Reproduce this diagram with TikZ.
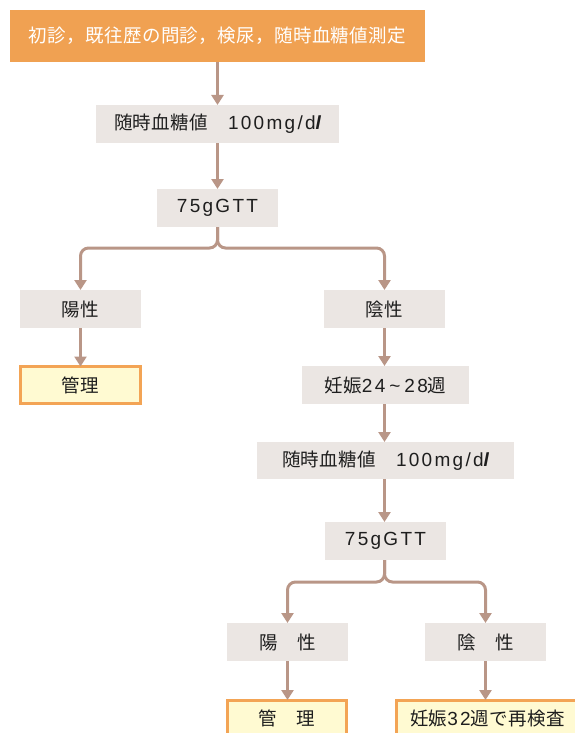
\documentclass[tikz,border=0pt]{standalone}
\usepackage{fontspec}
\usetikzlibrary{arrows.meta,calc}
\newfontfamily\cjk[LetterSpace=2]{Noto Sans CJK JP}
\newfontfamily\latf[LetterSpace=12]{Liberation Sans}
\newcommand{\lat}{\latf\fontsize{19}{22}\selectfont}
\definecolor{topfill}{HTML}{F0A152}
\definecolor{boxfill}{HTML}{EBE6E3}
\definecolor{arrcol}{HTML}{B99687}
\definecolor{mfill}{HTML}{FFFAD2}
\definecolor{mline}{HTML}{F3A455}
\definecolor{txt}{HTML}{1E1E1E}
\newcommand{\mgdl}{{\lat 100mg/d}{\lat\bfseries\itshape l}}
\begin{document}
\begin{tikzpicture}[x=1pt,y=-1pt,
  every node/.style={font=\cjk\fontsize{18.5}{21}\selectfont, text=txt, inner sep=0pt, outer sep=0pt},
  graybox/.style={fill=boxfill, minimum height=38pt},
  topbox/.style={fill=topfill, text=white, minimum width=415pt, minimum height=52pt},
  mbox/.style={fill=mfill, draw=mline, line width=3pt, minimum height=37pt},
  arr/.style={draw=arrcol, line width=3pt, -{Triangle[width=12pt,length=10pt]}},
  br/.style={arr, rounded corners=8pt}]
\useasboundingbox (0,0) rectangle (575,733);
\clip (0,0) rectangle (575,733);
% column 1
\node[topbox] (top) at (217.5,36) {初診，既往歴の問診，検尿，随時血糖値測定};
\node[graybox, minimum width=243pt] (r1) at (217.5,124) {随時血糖値\hspace{20pt}\mgdl};
\node[graybox, minimum width=121pt] (g1) at (217.5,208) {\lat 75gGTT};
\node[graybox, minimum width=121pt] (p1) at (80.5,309) {陽性};
\node[graybox, minimum width=121pt] (n1) at (384.5,309) {陰性};
\node[mbox, minimum width=120pt] (m1) at (80.5,385) {管理};
\node[graybox, minimum width=167pt] (w1) at (385.5,385) {妊娠{\lat 24\hspace{4pt}\textasciitilde\hspace{4pt}28}週};
\node[graybox, minimum width=257pt, minimum height=37pt] (r2) at (385.5,460.5) {随時血糖値\hspace{20pt}\mgdl};
\node[graybox, minimum width=121pt] (g2) at (385.5,541) {\lat 75gGTT};
\node[graybox, minimum width=121pt] (p2) at (287.5,642) {陽　性};
\node[graybox, minimum width=121pt] (n2) at (485.5,642) {陰　性};
\node[mbox, minimum width=119pt] (m2) at (287,718.5) {管　理};
\node[mbox, minimum width=190pt, text width=162pt, align=left] (rc) at (491,718.5) {妊娠{\lat 32}週で再検査};
% connectors
\draw[arr] (top.south) -- (top.south |- r1.north);
\draw[arr] (r1.south -| top.south) -- (g1.north);
\coordinate (j1) at ($(g1.south)+(0,21)$);
\draw[br] (g1.south) -- (j1) -| (p1.north);
\draw[br] (g1.south) -- (j1) -| (n1.north);
\draw[arr] (p1.south) -- (m1.north);
\draw[arr] (n1.south) -- (n1.south |- w1.north);
\draw[arr] (n1.south |- w1.south) -- (n1.south |- r2.north);
\draw[arr] (n1.south |- r2.south) -- (n1.south |- g2.north);
\coordinate (j2) at ($(n1.south |- g2.south)+(0,22)$);
\draw[br] (n1.south |- g2.south) -- (j2) -| (p2.north);
\draw[br] (n1.south |- g2.south) -- (j2) -| (n2.north);
\draw[arr] (p2.south) -- (p2.south |- m2.north);
\draw[arr] (n2.south) -- (n2.south |- rc.north);
\end{tikzpicture}
\end{document}
